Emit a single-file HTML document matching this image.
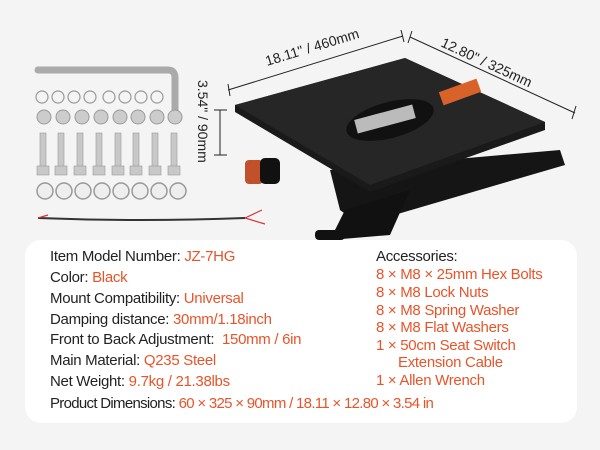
<!DOCTYPE html>
<html><head><meta charset="utf-8"><style>
html,body{margin:0;padding:0;width:600px;height:450px;background:#f4f4f4;overflow:hidden;font-family:"Liberation Sans",sans-serif}
.panel{position:absolute;left:25px;top:240px;width:552px;height:183px;background:#fff;border-radius:16px}
.t{position:absolute;font-size:15px;color:#222;white-space:nowrap;letter-spacing:-0.3px;line-height:18px}
.o{color:#e8542a}
svg{position:absolute;left:0;top:0}
</style></head><body>
<svg width="600" height="240" viewBox="0 0 600 240">
<path d="M38 70 H168 Q175 70 175 78 V116" stroke="#aaa" stroke-width="7" fill="none" stroke-linecap="round"/>
<g fill="none" stroke="#999" stroke-width="1.2">
<circle cx="42" cy="97" r="6"/><circle cx="58" cy="97" r="6"/><circle cx="74" cy="97" r="6"/><circle cx="90" cy="97" r="6"/>
<circle cx="109" cy="97" r="6"/><circle cx="125" cy="97" r="6"/><circle cx="141" cy="97" r="6"/><circle cx="157" cy="97" r="6"/>
</g>
<g fill="#ccc" stroke="#999">
<circle cx="44" cy="117" r="7"/><circle cx="63" cy="117" r="7"/><circle cx="82" cy="117" r="7"/><circle cx="101" cy="117" r="7"/><circle cx="120" cy="117" r="7"/><circle cx="138" cy="117" r="7"/><circle cx="157" cy="117" r="7"/><circle cx="175" cy="117" r="7"/>
</g>
<g fill="#c8c8c8" stroke="#999" stroke-width="0.6">
<rect x="40" y="133" width="6" height="35"/><rect x="58" y="133" width="6" height="35"/><rect x="77" y="133" width="6" height="35"/><rect x="96" y="133" width="6" height="35"/><rect x="115" y="133" width="6" height="35"/><rect x="133" y="133" width="6" height="35"/><rect x="152" y="133" width="6" height="35"/><rect x="171" y="133" width="6" height="35"/>
<rect x="37" y="166" width="12" height="9"/><rect x="55" y="166" width="12" height="9"/><rect x="74" y="166" width="12" height="9"/><rect x="93" y="166" width="12" height="9"/><rect x="112" y="166" width="12" height="9"/><rect x="130" y="166" width="12" height="9"/><rect x="149" y="166" width="12" height="9"/><rect x="168" y="166" width="12" height="9"/>
</g>
<g fill="#eee" stroke="#999" stroke-width="1.5">
<circle cx="45" cy="191" r="8"/><circle cx="64" cy="191" r="8"/><circle cx="83" cy="191" r="8"/><circle cx="102" cy="191" r="8"/><circle cx="121" cy="191" r="8"/><circle cx="140" cy="191" r="8"/><circle cx="159" cy="191" r="8"/><circle cx="178" cy="191" r="8"/>
</g>
<path d="M38 218 Q140 222 245 218" stroke="#333" stroke-width="2" fill="none"/>
<path d="M38 218 L48 215 M245 218 L262 210 M245 218 L265 224" stroke="#d33" stroke-width="1.2"/>
<g stroke="#222" stroke-width="1">
<line x1="228" y1="90" x2="403" y2="36"/><line x1="228" y1="84" x2="230" y2="96"/><line x1="401" y1="30" x2="404" y2="42"/>
<line x1="410" y1="37" x2="575" y2="113"/><line x1="412" y1="31" x2="408" y2="43"/><line x1="576" y1="106" x2="572" y2="119"/>
<line x1="220" y1="110" x2="220" y2="155"/><line x1="214" y1="110" x2="227" y2="110"/><line x1="214" y1="155" x2="227" y2="155"/>
</g>
<text x="267" y="66" font-family="Liberation Sans,sans-serif" font-size="14" fill="#222" transform="rotate(-17 267 66)">18.11" / 460mm</text>
<text x="440" y="46" font-family="Liberation Sans,sans-serif" font-size="14" fill="#222" transform="rotate(25 440 46)">12.80" / 325mm</text>
<text x="198" y="80" font-family="Liberation Sans,sans-serif" font-size="14" fill="#222" transform="rotate(90 198 80)">3.54" / 90mm</text>
<polygon points="330,170 560,150 565,165 360,225 340,210" fill="#151515"/>
<polygon points="345,210 410,190 390,235 330,240" fill="#111"/>
<polygon points="235,105 405,58 545,122 545,130 370,192 235,112" fill="#1a1a1a"/>
<polygon points="235,105 405,58 545,122 370,185" fill="#262626"/>
<ellipse cx="390" cy="120" rx="45" ry="18" fill="#111" transform="rotate(-15 390 120)"/>
<rect x="355" y="112" width="60" height="14" fill="#bbb" transform="rotate(-15 385 119)"/>
<rect x="440" y="85" width="40" height="14" fill="#d9622b" transform="rotate(-20 460 92)"/>
<rect x="245" y="160" width="18" height="24" rx="4" fill="#c0512a"/>
<rect x="260" y="158" width="20" height="26" rx="5" fill="#111"/>
<rect x="315" y="230" width="30" height="10" rx="4" fill="#111"/>
</svg>
<div class="panel"></div>
<div class="t" style="left:50px;top:248px">Item Model Number: <span class="o">JZ-7HG</span></div>
<div class="t" style="left:50px;top:269px">Color: <span class="o">Black</span></div>
<div class="t" style="left:50px;top:290px">Mount Compatibility: <span class="o">Universal</span></div>
<div class="t" style="left:50px;top:311px">Damping distance: <span class="o">30mm/1.18inch</span></div>
<div class="t" style="left:50px;top:331px">Front to Back Adjustment:&nbsp; <span class="o">150mm / 6in</span></div>
<div class="t" style="left:50px;top:352px">Main Material: <span class="o">Q235 Steel</span></div>
<div class="t" style="left:50px;top:373px">Net Weight: <span class="o">9.7kg / 21.38lbs</span></div>
<div class="t" style="left:50px;top:395px;letter-spacing:-0.7px">Product Dimensions: <span class="o">60 × 325 × 90mm / 18.11 × 12.80 × 3.54 in</span></div>
<div class="t" style="left:376px;top:248px">Accessories:</div>
<div class="t o" style="left:376px;top:266px">8 × M8 × 25mm Hex Bolts</div>
<div class="t o" style="left:376px;top:284px">8 × M8 Lock Nuts</div>
<div class="t o" style="left:376px;top:302px">8 × M8 Spring Washer</div>
<div class="t o" style="left:376px;top:319px">8 × M8 Flat Washers</div>
<div class="t o" style="left:376px;top:337px">1 × 50cm Seat Switch</div>
<div class="t o" style="left:398px;top:354px">Extension Cable</div>
<div class="t o" style="left:376px;top:372px">1 × Allen Wrench</div>
</body></html>
